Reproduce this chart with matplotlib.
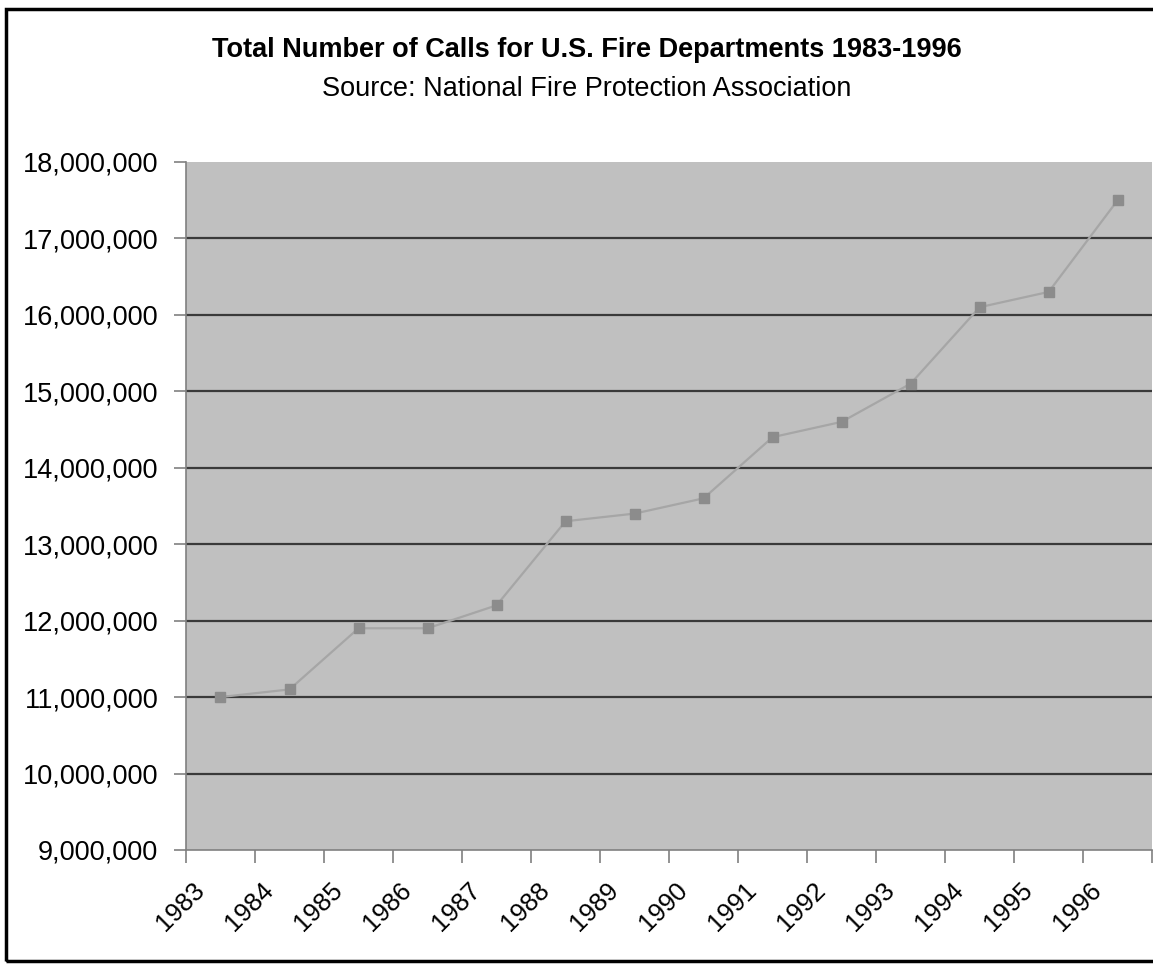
import numpy as np
import matplotlib.pyplot as plt
from matplotlib.patches import Rectangle
from matplotlib.ticker import FuncFormatter

plt.rcParams["font.family"] = ["Liberation Sans", "DejaVu Sans"]

years = ["1983", "1984", "1985", "1986", "1987", "1988", "1989",
         "1990", "1991", "1992", "1993", "1994", "1995", "1996"]
calls = [11000000, 11100000, 11900000, 11900000, 12200000, 13300000, 13400000,
         13600000, 14400000, 14600000, 15100000, 16100000, 16300000, 17500000]

fig = plt.figure(figsize=(11.53, 9.64), dpi=100)
ax = fig.add_axes([0.1613, 0.1183, 0.838, 0.7137])

x = np.arange(len(years))
ax.set_facecolor("#c0c0c0")
ax.plot(x, calls, color="#a6a6a6", lw=1.6, zorder=3)
ax.plot(x, calls, ls="none", marker="s", ms=7.5, color="#8c8c8c", zorder=4)

ax.set_ylim(9000000, 18000000)
ax.set_xlim(-0.5, len(years) - 0.5)
ax.set_yticks(np.arange(9000000, 18000001, 1000000))
ax.yaxis.set_major_formatter(FuncFormatter(lambda v, p: f"{int(v):,}"))
for yv in range(10000000, 18000000, 1000000):
    ax.axhline(yv, color="#3a3a3a", lw=1.6, zorder=2)

# ticks sit between categories, labels slightly right of each tick
ax.set_xticks(np.arange(len(years) + 1) - 0.5)
ax.set_xticklabels([])
ax.set_xticks(x - 0.41, minor=True)
ax.set_xticklabels(years, minor=True, rotation=45, ha="right", va="top",
                   rotation_mode="anchor", fontsize=18.5)
ax.tick_params(axis="x", which="minor", length=0, pad=20)
ax.tick_params(axis="x", which="major", length=9, width=1.2, color="#808080")
ax.tick_params(axis="y", length=9, width=1.2, color="#808080", labelsize=19.5, pad=11)

for s in ["top", "right"]:
    ax.spines[s].set_visible(False)
for s in ["left", "bottom"]:
    ax.spines[s].set_color("#808080")
    ax.spines[s].set_linewidth(1.2)

fig.text(0.509, 0.948, "Total Number of Calls for U.S. Fire Departments 1983-1996",
         ha="center", va="center", fontsize=19.5, fontweight="bold")
fig.text(0.509, 0.908, "Source: National Fire Protection Association",
         ha="center", va="center", fontsize=19.5)

fig.patches.append(Rectangle((0.005, 0.003), 0.998, 0.988, transform=fig.transFigure,
                             fill=False, edgecolor="black", lw=2.5))

fig.savefig("out.png", dpi=100)
